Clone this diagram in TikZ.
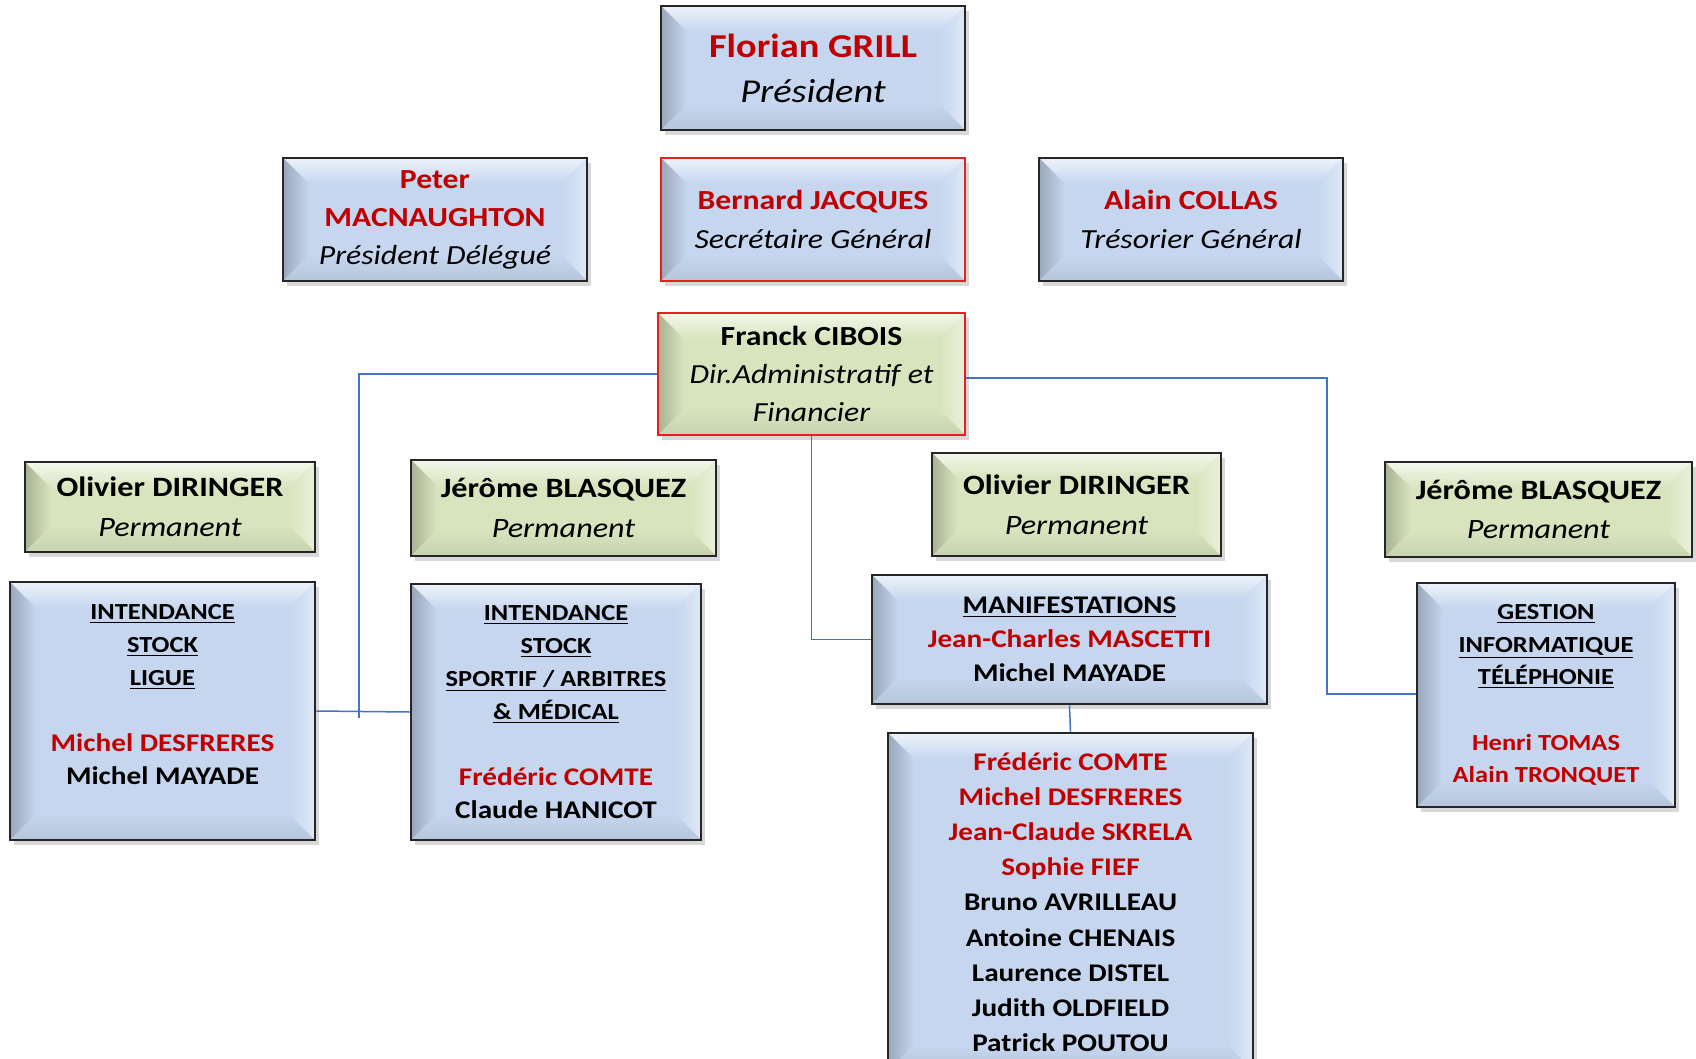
\documentclass[tikz,border=0pt]{standalone}
\usepackage{fontspec}
\setmainfont{Carlito}[FakeStretch=1.15]
\usetikzlibrary{shadows}
\definecolor{boxblue}{RGB}{197,214,238}
\definecolor{boxgreen}{RGB}{216,228,190}
\definecolor{tred}{RGB}{192,0,0}
\definecolor{bred}{RGB}{228,32,32}
\definecolor{linkblue}{RGB}{68,114,196}
\newcommand\Rn[1]{{\bfseries\color{tred}#1}}
\newcommand\Bn[1]{{\bfseries #1}}
\newcommand\Ro[1]{{\itshape #1}}
\newcommand\Hd[1]{{\bfseries\fontsize{11.5}{16.5}\selectfont\underline{#1}}}
\tikzset{
  bevelled/.style={fill=#1, path picture={
    \path (path picture bounding box.north west) coordinate (pNW)
          (path picture bounding box.north east) coordinate (pNE)
          (path picture bounding box.south west) coordinate (pSW)
          (path picture bounding box.south east) coordinate (pSE)
          ([xshift=13pt,yshift=-13pt]path picture bounding box.north west) coordinate (iNW)
          ([xshift=-13pt,yshift=-13pt]path picture bounding box.north east) coordinate (iNE)
          ([xshift=13pt,yshift=13pt]path picture bounding box.south west) coordinate (iSW)
          ([xshift=-13pt,yshift=13pt]path picture bounding box.south east) coordinate (iSE);
    \shade[top color=white!70!#1, bottom color=#1] (pNW) -- (pNE) -- (iNE) -- (iNW) -- cycle;
    \shade[left color=#1!78!black, right color=#1] (pNW) -- (iNW) -- (iSW) -- (pSW) -- cycle;
    \shade[right color=white!45!#1, left color=#1] (pNE) -- (iNE) -- (iSE) -- (pSE) -- cycle;
    \shade[bottom color=#1!92!black, top color=#1] (pSW) -- (iSW) -- (iSE) -- (pSE) -- cycle;
  }},
  orgbox/.style={rectangle, inner sep=0pt, align=center, line width=1.4pt, draw=black!85,
    drop shadow={opacity=0.3, shadow xshift=2pt, shadow yshift=-2.5pt}},
  bluebox/.style={orgbox, bevelled=boxblue},
  greenbox/.style={orgbox, bevelled=boxgreen},
  link/.style={draw=linkblue, line width=0.75pt}
}
\begin{document}
\begin{tikzpicture}[x=0.5pt, y=-0.5pt]
\fill[white] (0,0) rectangle (1696,1059);
\useasboundingbox (0,0) rectangle (1696,1059);

\node[bluebox, minimum width=152pt, minimum height=62pt, font=\fontsize{16.7}{22.5}\selectfont]
  (grill) at (813,68) {\Rn{Florian GRILL}\\\Ro{Président}};
\node[bluebox, minimum width=152pt, minimum height=61.5pt, font=\fontsize{13.8}{19}\selectfont]
  (mac) at (435,219.5) {\Rn{Peter}\\\Rn{MACNAUGHTON}\\\Ro{Président Délégué}};
\node[bluebox, draw=bred, minimum width=152pt, minimum height=61.5pt, font=\fontsize{13.8}{19.5}\selectfont]
  (jac) at (813,219.5) {\Rn{Bernard JACQUES}\\\Ro{Secrétaire Général}};
\node[bluebox, minimum width=152pt, minimum height=61.5pt, font=\fontsize{13.8}{19.5}\selectfont]
  (col) at (1191,219.5) {\Rn{Alain COLLAS}\\\Ro{Trésorier Général}};
\node[greenbox, draw=bred, minimum width=153.5pt, minimum height=61pt, font=\fontsize{13.8}{19.2}\selectfont]
  (cib) at (811.5,374) {\Bn{Franck CIBOIS}\\\Ro{Dir.Administratif et}\\\Ro{Financier}};

\node[greenbox, minimum width=145pt, minimum height=45pt, font=\fontsize{14}{19.8}\selectfont]
  (dir1) at (170,507) {\Bn{Olivier DIRINGER}\\\Ro{Permanent}};
\node[greenbox, minimum width=152.5pt, minimum height=48pt, font=\fontsize{14}{19.8}\selectfont]
  (bla1) at (563.5,508) {\Bn{Jérôme BLASQUEZ}\\\Ro{Permanent}};
\node[greenbox, minimum width=144.5pt, minimum height=51.5pt, font=\fontsize{14}{19.8}\selectfont]
  (dir2) at (1076.5,504.5) {\Bn{Olivier DIRINGER}\\\Ro{Permanent}};
\node[greenbox, minimum width=153.5pt, minimum height=47.5pt, font=\fontsize{14}{19.8}\selectfont]
  (bla2) at (1538.5,509.5) {\Bn{Jérôme BLASQUEZ}\\\Ro{Permanent}};

\node[bluebox, minimum width=152.5pt, minimum height=129pt, font=\fontsize{12.7}{16.5}\selectfont]
  (lig) at (162.5,711) {\Hd{INTENDANCE}\\\Hd{STOCK}\\\Hd{LIGUE}\\\mbox{}\\\Rn{Michel DESFRERES}\\\Bn{Michel MAYADE}\\\mbox{}};
\node[bluebox, minimum width=145pt, minimum height=128pt, font=\fontsize{12.7}{16.5}\selectfont]
  (spo) at (556,712) {\Hd{INTENDANCE}\\\Hd{STOCK}\\\Hd{SPORTIF / ARBITRES}\\\Hd{\& MÉDICAL}\\\mbox{}\\\Rn{Frédéric COMTE}\\\Bn{Claude HANICOT}};
\node[bluebox, minimum width=197.5pt, minimum height=64.5pt, font=\fontsize{12.7}{17}\selectfont]
  (man) at (1069.5,639.5) {\Bn{\underline{MANIFESTATIONS}}\\\Rn{Jean-Charles MASCETTI}\\\Bn{Michel MAYADE}};
\node[bluebox, minimum width=182.5pt, minimum height=169pt, font=\fontsize{12.7}{17.6}\selectfont]
  (mem) at (1070.5,902) {\Rn{Frédéric COMTE}\\\Rn{Michel DESFRERES}\\\Rn{Jean-Claude SKRELA}\\\Rn{Sophie FIEF}\\\Bn{Bruno AVRILLEAU}\\\Bn{Antoine CHENAIS}\\\Bn{Laurence DISTEL}\\\Bn{Judith OLDFIELD}\\\Bn{Patrick POUTOU}};
\node[bluebox, minimum width=129pt, minimum height=112pt, font=\fontsize{11.5}{16.3}\selectfont]
  (ges) at (1546,695) {\Hd{GESTION}\\\Hd{INFORMATIQUE}\\\Hd{TÉLÉPHONIE}\\\mbox{}\\\Rn{Henri TOMAS}\\\Rn{Alain TRONQUET}};

\coordinate (cL) at (359,718);
\coordinate (cR) at (1327,694);
\draw[link] (cib.west) -| (cL);
\draw[link] (lig.east) -- (spo.west);
\draw[link] ([yshift=-2pt]cib.east) -| (cR) -- (ges.west |- cR);
\draw[link] (cib.south) |- (man.west);
\draw[link] (man.south) -- (mem.north);
\end{tikzpicture}
\end{document}
